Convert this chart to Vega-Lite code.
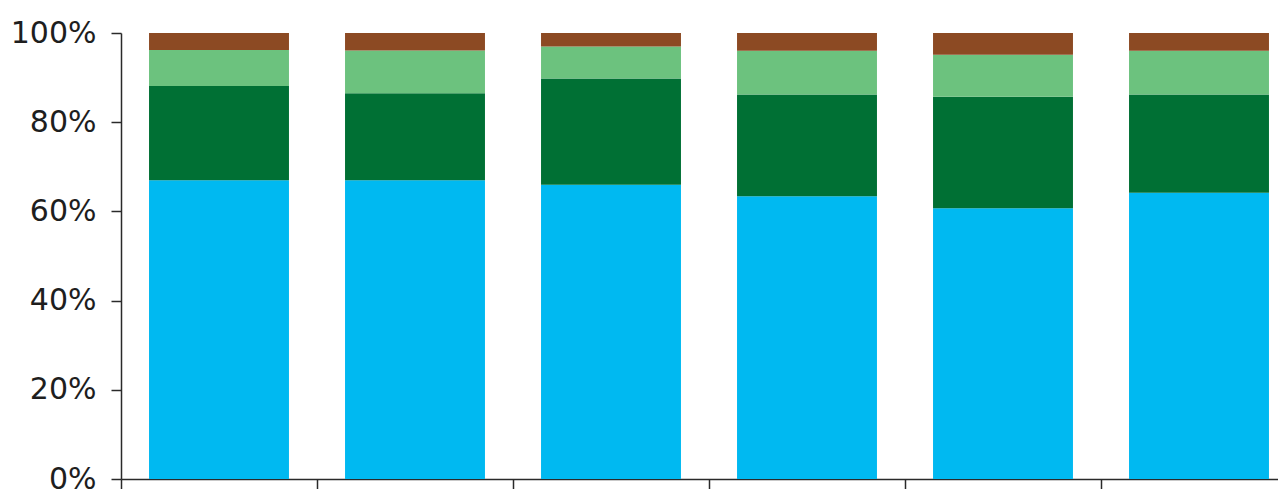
{
  "$schema": "https://vega.github.io/schema/vega-lite/v6.json",
  "width": 1157,
  "height": 446,
  "autosize": {"type": "none"},
  "padding": {"left": 121, "top": 33, "right": 0, "bottom": 10},
  "background": "white",
  "config": {"view": {"stroke": null}, "font": "DejaVu Sans"},
  "data": {
    "values": [
      {"group": "1", "series": "S1", "k": 1, "value": 67.0},
      {"group": "1", "series": "S2", "k": 2, "value": 21.1},
      {"group": "1", "series": "S3", "k": 3, "value": 8.1},
      {"group": "1", "series": "S4", "k": 4, "value": 3.8},
      {"group": "2", "series": "S1", "k": 1, "value": 67.0},
      {"group": "2", "series": "S2", "k": 2, "value": 19.5},
      {"group": "2", "series": "S3", "k": 3, "value": 9.6},
      {"group": "2", "series": "S4", "k": 4, "value": 3.9},
      {"group": "3", "series": "S1", "k": 1, "value": 66.0},
      {"group": "3", "series": "S2", "k": 2, "value": 23.8},
      {"group": "3", "series": "S3", "k": 3, "value": 7.2},
      {"group": "3", "series": "S4", "k": 4, "value": 3.0},
      {"group": "4", "series": "S1", "k": 1, "value": 63.4},
      {"group": "4", "series": "S2", "k": 2, "value": 22.8},
      {"group": "4", "series": "S3", "k": 3, "value": 9.8},
      {"group": "4", "series": "S4", "k": 4, "value": 4.0},
      {"group": "5", "series": "S1", "k": 1, "value": 60.7},
      {"group": "5", "series": "S2", "k": 2, "value": 25.0},
      {"group": "5", "series": "S3", "k": 3, "value": 9.4},
      {"group": "5", "series": "S4", "k": 4, "value": 4.9},
      {"group": "6", "series": "S1", "k": 1, "value": 64.2},
      {"group": "6", "series": "S2", "k": 2, "value": 22.0},
      {"group": "6", "series": "S3", "k": 3, "value": 9.8},
      {"group": "6", "series": "S4", "k": 4, "value": 4.0}
    ]
  },
  "mark": {"type": "bar", "width": {"band": 0.714}},
  "encoding": {
    "x": {
      "field": "group",
      "type": "nominal",
      "sort": null,
      "scale": {"range": [0, 1176], "paddingInner": 0, "paddingOuter": 0},
      "axis": {
        "title": null,
        "labels": false,
        "tickBand": "extent",
        "tickSize": 10,
        "domainColor": "#2a2a2a",
        "tickColor": "#2a2a2a",
        "domainWidth": 1.5,
        "tickWidth": 1.5
      }
    },
    "y": {
      "field": "value",
      "type": "quantitative",
      "stack": "normalize",
      "scale": {"domain": [0, 1]},
      "axis": {
        "title": null,
        "format": ".0%",
        "values": [0, 0.2, 0.4, 0.6, 0.8, 1],
        "grid": false,
        "tickSize": 10,
        "tickColor": "#2a2a2a",
        "tickWidth": 1.5,
        "domainColor": "#2a2a2a",
        "domainWidth": 1.5,
        "labelFontSize": 30,
        "labelPadding": 15,
        "labelColor": "#1e1e1e"
      }
    },
    "color": {
      "field": "series",
      "type": "nominal",
      "scale": {"domain": ["S1", "S2", "S3", "S4"], "range": ["#00B9F1", "#007034", "#6CC27E", "#8C4A23"]},
      "legend": null
    },
    "order": {"field": "k", "type": "quantitative"}
  }
}
